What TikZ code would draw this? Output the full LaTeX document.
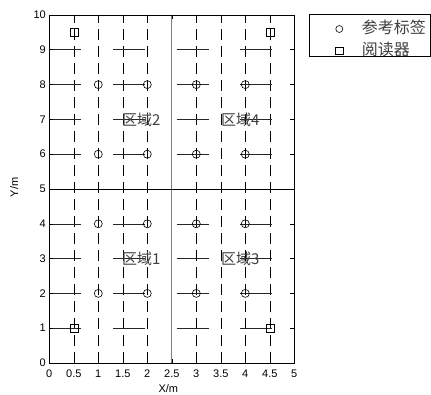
\documentclass[tikz,border=0pt]{standalone}
\usepackage{fontspec}
\setmainfont{Liberation Sans}
\newfontfamily\cjk{Noto Sans CJK SC}
\begin{document}
\begin{tikzpicture}[x=49pt,y=34.8pt,
  hseg/.style={black!85,line width=0.6pt},
  vdash/.style={black,line width=0.6pt,dash pattern=on 11pt off 6pt},
  midline/.style={gray,line width=0.8pt},
  tag/.style={circle,draw=black,line width=0.6pt,minimum size=8pt,inner sep=0pt},
  reader/.style={rectangle,draw=black,line width=0.6pt,minimum size=8pt,inner sep=0pt},
  ticklab/.style={font=\fontsize{11}{12}\selectfont,inner sep=0pt},
  region/.style={font=\cjk\fontsize{15}{16}\selectfont,text=black!75,inner sep=0pt,anchor=west},
  legtxt/.style={font=\cjk\fontsize{16}{17}\selectfont,text=black!75,inner sep=0pt,anchor=west}]
\useasboundingbox (-49.3pt,-31pt) rectangle (381.7pt,363pt);
\fill[white] (-49.3pt,-31pt) rectangle (381.7pt,363pt);
% vertical dashed lines
\foreach \x in {0.5,1,1.5,2,3,3.5,4,4.5}
  \draw[vdash] (\x,0) -- (\x,10);
% middle lines
\draw[midline] (2.5,0) -- (2.5,10);
\draw[black,line width=0.6pt] (0,5) -- (5,5);
% horizontal segments
\foreach \y in {1,2,3,4,6,7,8,9}
  \foreach \a in {0,1.3,2.6,3.9}
    \draw[hseg] (\a,\y) -- ({\a+0.65},\y);
% axes box and ticks
\draw[black,line width=0.7pt] (0,0) rectangle (5,10);
\foreach \x in {0,0.5,...,5} {
  \draw[black,line width=0.6pt] (\x,0) -- ++(0,4pt);
  \draw[black,line width=0.6pt] (\x,10) -- ++(0,-4pt);
}
\foreach \y in {0,...,10} {
  \draw[black,line width=0.6pt] (0,\y) -- ++(4pt,0);
  \draw[black,line width=0.6pt] (5,\y) -- ++(-4pt,0);
}
% tick labels
\foreach \x/\l in {0/0,0.5/0.5,1/1,1.5/1.5,2/2,2.5/2.5,3/3,3.5/3.5,4/4,4.5/4.5,5/5}
  \node[ticklab,anchor=base] (xl\l) at ([yshift=-14pt]\x,0) {\l};
\foreach \y in {0,...,10}
  \node[ticklab,anchor=east] (yl\y) at ([xshift=-3.3pt]0,\y) {\y};
\node[ticklab,anchor=base] (xlab) at ([yshift=-29.5pt]2.43,0) {X/m};
\node[ticklab,anchor=base,rotate=90] (ylab) at ([xshift=-31.3pt]0,5.05) {Y/m};
% tags
\foreach \x in {1,2,3,4}
  \foreach \y in {2,4,6,8}
    \node[tag] (t\x\y) at (\x,\y) {};
% readers
\node[reader] (r1) at (0.5,9.5) {};
\node[reader] (r2) at (4.5,9.5) {};
\node[reader] (r3) at (0.5,1) {};
\node[reader] (r4) at (4.5,1) {};
% region labels
\node[region] (z2) at (1.48,7) {区域2};
\node[region] (z4) at (3.5,7) {区域4};
\node[region] (z1) at (1.48,3) {区域1};
\node[region] (z3) at (3.5,3) {区域3};
% legend
\draw[black,line width=0.7pt,fill=white] (260pt,306.7pt) rectangle (381.2pt,349pt);
\node[tag,minimum size=7pt] (lt) at (290pt,334pt) {};
\node[reader,minimum size=7.5pt] (lr) at (290pt,312.3pt) {};
\node[legtxt] (ltt) at (312.4pt,336pt) {参考标签};
\node[legtxt] (lrt) at (312.4pt,313.5pt) {阅读器};
\end{tikzpicture}
\end{document}
